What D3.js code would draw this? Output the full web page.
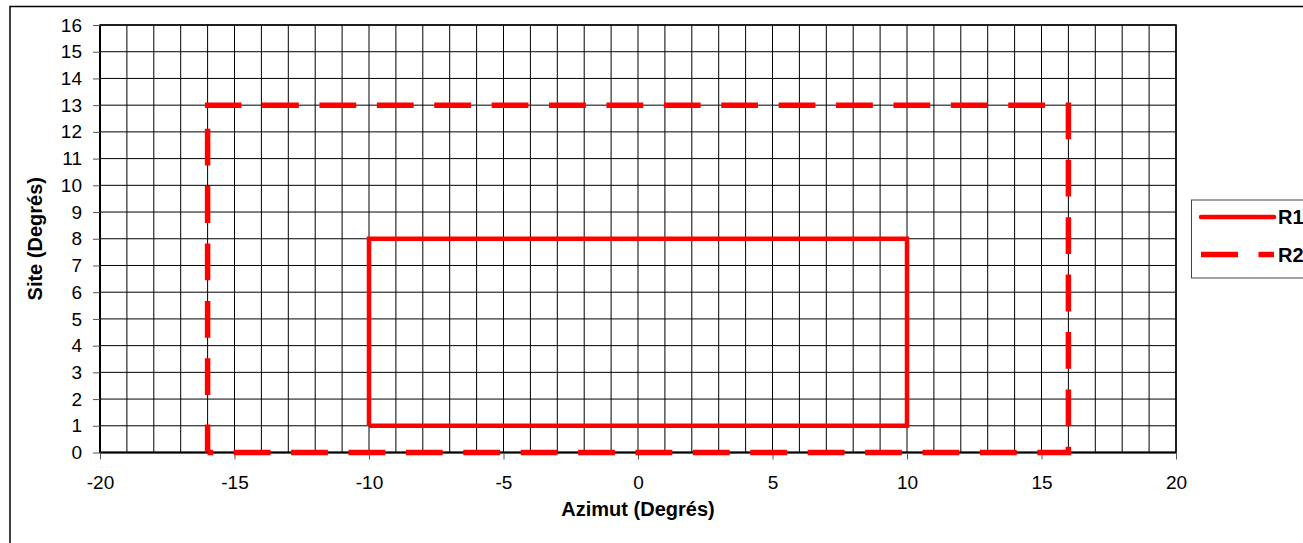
<!DOCTYPE html>
<html>
<head>
<meta charset="utf-8">
<script src="https://cdn.jsdelivr.net/npm/d3@7"></script>
<style>
  html, body { margin: 0; padding: 0; background: #fff; }
  svg { display: block; }
  text { font-family: "Liberation Sans", Arial, sans-serif; fill: #000; }
</style>
</head>
<body>
<svg id="chart" width="1303" height="543"></svg>
<script>
// ---- data ----
const xDomain = [-20, 20];
const yDomain = [0, 16];
const xTicks = [-20, -15, -10, -5, 0, 5, 10, 15, 20];
const yTicks = [0,1,2,3,4,5,6,7,8,9,10,11,12,13,14,15,16];
const r1X = [-10, -10, 10, 10, -10];
const r1Y = [1, 8, 8, 1, 1];
const r2X = [-16, -16, 16, 16, -16];
const r2Y = [0, 13, 13, 0, 0];
const seriesNames = ["R1", "R2"];
const xTitle = "Azimut (Degrés)";
const yTitle = "Site (Degrés)";

// ---- layout ----
const svg = d3.select("#chart");
const L = 100, R = 1176, T = 25, B = 452.5;
const x = d3.scaleLinear().domain(xDomain).range([L, R]);
const y = d3.scaleLinear().domain(yDomain).range([B, T]);
const fmt = d => String(d);

// outer chart border
svg.append("rect").attr("x", 10).attr("y", 6.5).attr("width", 1310).attr("height", 560)
  .attr("fill", "none").attr("stroke", "#000").attr("stroke-width", 1.5);

// grid
const g = svg.append("g");
g.selectAll("line.vg").data(d3.range(xDomain[0], xDomain[1] + 1)).join("line")
  .attr("x1", d => x(d)).attr("x2", d => x(d)).attr("y1", T).attr("y2", B)
  .attr("stroke", "#000").attr("stroke-width", 1);
g.selectAll("line.hg").data(yTicks).join("line")
  .attr("x1", L).attr("x2", R).attr("y1", d => y(d)).attr("y2", d => y(d))
  .attr("stroke", "#000").attr("stroke-width", 1);

// plot border
svg.append("rect").attr("x", L).attr("y", T).attr("width", R - L).attr("height", B - T)
  .attr("fill", "none").attr("stroke", "#000").attr("stroke-width", 1.5);

// axes
const yAxis = d3.axisLeft(y).tickValues(yTicks).tickSize(7).tickPadding(11).tickFormat(fmt);
const yg = svg.append("g").attr("transform", `translate(${L},0)`).call(yAxis);
const xAxis = d3.axisBottom(x).tickValues(xTicks).tickSize(7).tickPadding(16).tickFormat(fmt);
const xg = svg.append("g").attr("transform", `translate(0,${B})`).call(xAxis);
[yg, xg].forEach(a => {
  a.select(".domain").attr("stroke", "#000").attr("stroke-width", 2);
  a.selectAll(".tick line").attr("stroke", "#555").attr("stroke-width", 1);
  a.selectAll(".tick text").style("font-family", '"Liberation Sans", Arial, sans-serif')
    .style("font-size", "19px").attr("fill", "#000");
});
xg.select(".domain").attr("d", `M${L},0H${R}`);
yg.select(".domain").attr("d", `M0,${T}V${B}`);

// series
const line = d3.line().x(d => x(d[0])).y(d => y(d[1]));
const r1 = r1X.map((v, i) => [v, r1Y[i]]);
const r2 = r2X.map((v, i) => [v, r2Y[i]]);
svg.append("path").attr("d", line(r1)).attr("fill", "none").attr("stroke", "#ff0000")
  .attr("stroke-width", 4.5).attr("stroke-linejoin", "miter");
const dashSeq = [28, 29.4].concat(...Array(45).fill([36.8, 20.6]));
svg.append("path").attr("d", line(r2)).attr("fill", "none").attr("stroke", "#ff0000")
  .attr("stroke-width", 5.5).attr("stroke-dasharray", dashSeq.join(",")).attr("stroke-linecap", "butt");

// axis titles
svg.append("text").attr("x", (L + R) / 2).attr("y", 516).attr("text-anchor", "middle")
  .style("font-size", "20px").style("font-weight", "bold").text(xTitle);
svg.append("text").attr("transform", `translate(42,${(T + B) / 2}) rotate(-90)`)
  .attr("text-anchor", "middle").style("font-size", "20px").style("font-weight", "bold").text(yTitle);

// legend
const lg = svg.append("g");
lg.append("rect").attr("x", 1191.5).attr("y", 200).attr("width", 130).attr("height", 78)
  .attr("fill", "#fff").attr("stroke", "#444").attr("stroke-width", 1);
const legY = [217, 254.5];
seriesNames.forEach((name, i) => {
  const ln = lg.append("line").attr("x1", 1201).attr("x2", 1274).attr("y1", legY[i]).attr("y2", legY[i])
    .attr("stroke", "#ff0000").attr("stroke-width", i === 0 ? 4.5 : 5.5);
  if (i === 1) ln.attr("stroke-dasharray", "37,20.5");
  else ln.attr("stroke-linecap", "round");
  lg.append("text").attr("x", 1278).attr("y", legY[i] + 7).style("font-size", "20px")
    .style("font-weight", "bold").text(name);
});
</script>
</body>
</html>
